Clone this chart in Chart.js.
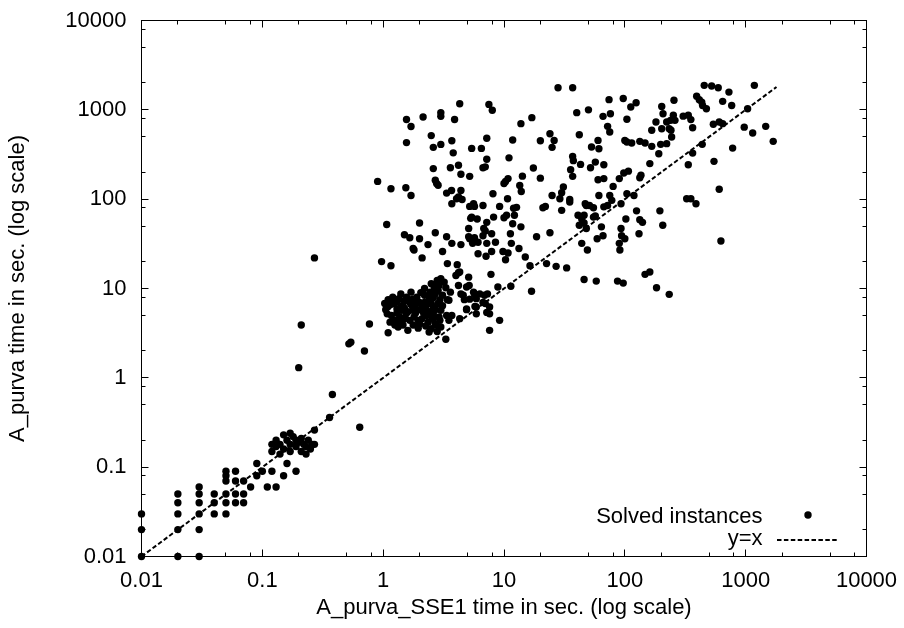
<!DOCTYPE html>
<html>
<head>
<meta charset="utf-8">
<script src="https://cdn.jsdelivr.net/npm/chart.js@4.4.1/dist/chart.umd.min.js"></script>
<style>
  html, body { margin: 0; padding: 0; background: #fff; }
</style>
</head>
<body>
<canvas id="chart" width="904" height="628"></canvas>
<script>
// Solved instances as [A_purva_SSE1 time, A_purva time] in seconds
const tinyInstances = [
  [0.01, 0.01], [0.01, 0.02], [0.01, 0.03],
  [0.02, 0.01], [0.02, 0.02], [0.02, 0.03], [0.02, 0.04], [0.02, 0.05],
  [0.03, 0.01], [0.03, 0.02], [0.03, 0.03], [0.03, 0.04], [0.03, 0.05], [0.03, 0.06],
  [0.04, 0.03], [0.04, 0.04], [0.04, 0.05],
  [0.05, 0.03], [0.05, 0.04], [0.05, 0.05], [0.05, 0.07], [0.05, 0.08], [0.05, 0.09],
  [0.06, 0.04], [0.06, 0.05], [0.06, 0.07], [0.06, 0.09],
  [0.07, 0.04], [0.07, 0.05], [0.07, 0.07],
  [0.08, 0.06], [0.09, 0.08], [0.09, 0.11], [0.1, 0.09],
];

const smallInstances = [
  [0.11, 0.06], [0.12, 0.09], [0.13, 0.06], [0.15, 0.08], [0.16, 0.11], [0.19, 0.09],
  [0.12, 0.18], [0.12, 0.15], [0.13, 0.17], [0.14, 0.18], [0.15, 0.23], [0.15, 0.16],
  [0.16, 0.2], [0.17, 0.24], [0.17, 0.18], [0.19, 0.2], [0.19, 0.17], [0.2, 0.19],
  [0.21, 0.15], [0.22, 0.18], [0.23, 0.17], [0.24, 0.2], [0.25, 0.16], [0.26, 0.18],
  [0.27, 0.18], [0.14, 0.14], [0.13, 0.2], [0.18, 0.22], [0.21, 0.21], [0.23, 0.14],
  [0.17, 0.15],
  [0.27, 0.26], [0.36, 0.36], [0.38, 0.65], [0.64, 0.28],
  [0.2, 1.3], [0.21, 3.9], [0.27, 22], [0.52, 2.4], [0.54, 2.5], [0.7, 2.0], [0.77, 4.0],
];

const midInstances = [
  [1.1, 7.5], [1.2, 8.0], [1.4, 8.7], [1.7, 9.1], [1.9, 8.0], [2.2, 10], [2.5, 11.3],
  [2.8, 12.3], [3.0, 12.9], [3.2, 11.8], [2.85, 9.5], [3.1, 8.4], [2.4, 7.4], [2.1, 6.2],
  [1.9, 6.8], [1.65, 7.0], [1.45, 6.5], [1.3, 5.9], [1.05, 5.8], [1.17, 5.0], [1.37, 4.8],
  [1.55, 5.2], [1.8, 4.8], [2.1, 4.6], [2.3, 5.0], [2.6, 5.2], [3.0, 5.7], [2.85, 6.8],
  [1.14, 4.2], [1.46, 3.9], [1.77, 3.9], [1.6, 3.4], [1.25, 4.4], [1.03, 6.8], [2.0, 4.0],
  [2.5, 3.55], [2.75, 3.9], [3.35, 5.0], [2.95, 4.4], [1.77, 5.7], [2.2, 8.4], [2.7, 8.7],
  [2.45, 9.1], [1.29, 7.0], [1.56, 8.0], [1.89, 5.7], [1.42, 5.7], [1.21, 6.8], [2.6, 6.2],
  [2.36, 4.2], [1.66, 4.4], [1.33, 3.7], [1.1, 6.3], [1.5, 6.0], [2.0, 7.0], [2.3, 6.6],
  [2.6, 7.9], [2.9, 10.8], [3.3, 10.2], [1.35, 7.7], [1.75, 6.3], [2.15, 5.4],
  [1.1, 3.2], [2.4, 3.25], [2.8, 3.3], [3.3, 2.7], [3.7, 5.0], [3.5, 7.4], [4.0, 14],
  [4.2, 15], [4.2, 10.8], [4.9, 10.4], [5.1, 13.4], [4.4, 8.7], [5.2, 7.6], [5.7, 8.7],
  [4.9, 5.9], [5.9, 5.2], [7.3, 8.7], [7.6, 6.2], [7.6, 3.4], [9.2, 4.4], [8.9, 10.4],
  [7.8, 14.4], [4.3, 15.3], [3.6, 9.1], [4.7, 7.5], [5.9, 6.2], [3.4, 7.5], [7.0, 6.8],
  [7.2, 5.4], [3.5, 4.4], [2.9, 4.8], [4.3, 4.6], [2.7, 4.0], [3.0, 3.7], [2.6, 4.6],
  [5.15, 10.8], [5.6, 9.1], [6.3, 8.7], [6.9, 8.4], [5.9, 7.7], [4.6, 8.4], [5.75, 6.3],
  [6.7, 7.0], [4.9, 5.8], [7.6, 5.2], [11.4, 10.6], [16.9, 9.3],
  [0.97, 20], [1.16, 18], [1.8, 27], [2.1, 22], [3.1, 26], [3.4, 19], [4.1, 18.5],
  [6.1, 24.5], [7.1, 23], [7.9, 26], [9.8, 26], [10.8, 25], [10.3, 21], [16.4, 18],
  [22.5, 19], [27, 17.7], [33, 17], [15, 22.5],
];

// the packed blob around 1-3 s / 4-12 s
const denseCluster = [
  [1.08, 5.2], [1.15, 6.6], [1.25, 7.4], [1.3, 5.3], [1.4, 6.1], [1.5, 7.3], [1.5, 4.6],
  [1.6, 5.5], [1.7, 6.6], [1.75, 7.6], [1.85, 5.3], [1.95, 4.4], [2.05, 5.8], [2.2, 7.0],
  [2.25, 6.0], [2.4, 5.5], [2.5, 6.8], [2.55, 4.8], [2.7, 5.8], [2.65, 10.2], [2.75, 11.0],
  [2.95, 7.5], [3.1, 6.4], [2.4, 8.2], [2.05, 9.0], [1.25, 3.9], [1.4, 4.2], [1.95, 3.6],
  [2.25, 3.8],
];

const slowInstances = [
  [28, 1770], [37, 1770], [4.3, 1170], [7.5, 1150], [8.0, 990], [1.56, 780], [1.7, 650],
  [2.14, 830], [3.0, 930], [3.0, 845], [3.9, 780], [1.56, 430], [2.5, 515], [2.6, 380],
  [3.0, 410], [3.7, 450], [3.8, 330], [5.4, 370], [6.5, 370], [7.2, 480], [7.2, 280],
  [6.7, 225], [7.0, 230], [2.6, 220], [3.6, 225], [4.2, 240], [4.4, 190], [5.2, 180],
  [2.7, 163], [2.85, 143], [3.35, 117], [4.4, 125], [4.2, 106], [3.7, 89], [5.2, 83],
  [5.7, 83], [6.7, 85], [8.1, 115], [9.2, 83], [10.3, 158], [10, 150], [10.8, 170],
  [13.5, 142], [13.9, 122], [14.2, 181], [17.5, 223], [20, 172], [11.8, 460], [11, 290],
  [13.8, 700], [17, 817], [20, 450], [24, 540], [25, 380], [26, 455], [40, 930], [50, 1000],
  [42, 527], [37, 300], [37.5, 270], [43, 245], [52, 225], [35.6, 214], [37, 180], [53, 383],
  [60, 455], [57, 260], [60, 165], [25, 110], [29, 101], [30, 118], [35, 99], [21, 80],
  [22, 83], [30, 75], [48, 85], [46, 66], [55, 63], [42, 51], [44, 32], [49, 27], [18.6, 38],
  [24, 42], [13.3, 28], [11.5, 32], [11.3, 41], [11.8, 53], [13.8, 49], [10.5, 66], [10, 62],
  [8.2, 63], [7.2, 55], [6.8, 47], [6.0, 60], [5.4, 63], [5.1, 47], [6.7, 39], [7.9, 41],
  [8.5, 33], [6.1, 33], [7.2, 32], [5.5, 32], [5.1, 38], [4.4, 31], [3.7, 32], [3.35, 38],
  [2.7, 42], [2.35, 31], [2.0, 54], [1.77, 28], [1.5, 40], [1.66, 37], [2.0, 36], [1.07, 52],
  [0.9, 158], [1.16, 131], [1.54, 134], [1.7, 110], [2.77, 150], [3.68, 125], [4.05, 101],
  [4.5, 99], [5.6, 89], [10.7, 101], [12, 79], [12.7, 81], [12.2, 66], [5.3, 61], [5.2, 36],
  [5.7, 37], [7, 44],
];

const largeInstances = [
  [454, 1880], [523, 1850], [593, 1770], [1180, 1880], [727, 1580], [393, 1420], [413, 1300],
  [433, 1220], [645, 1245], [766, 1120], [440, 1120], [473, 1030], [255, 1280], [202, 1090],
  [207, 905], [252, 870], [239, 763], [260, 763], [222, 730], [233, 615], [241, 590],
  [181, 730], [167, 590], [202, 615], [304, 850], [335, 870], [352, 777], [364, 630],
  [244, 496], [222, 418], [198, 411], [191, 323], [161, 250], [104, 436], [114, 425],
  [133, 444], [147, 425], [167, 390], [100, 455], [104, 783], [112, 1075], [124, 1200],
  [97, 1340], [74, 1300], [66, 845], [76, 905], [72, 653], [75, 565], [61, 367], [67, 243],
  [67, 170], [80, 139], [90, 170], [98, 196], [107, 206], [136, 185], [133, 174], [31, 137],
  [35, 93], [47, 89], [51, 85], [55, 80], [61, 110], [75, 110], [78, 97], [67, 82], [72, 85],
  [93, 89], [104, 115], [119, 110], [41, 66], [44, 60], [46, 54], [48, 47], [57, 65],
  [64, 49], [66, 39], [59, 36], [93, 47], [94, 39], [100, 36], [90, 32], [91, 27], [102, 60],
  [125, 74], [133, 59], [140, 55], [131, 41], [195, 74], [206, 51], [325, 101], [352, 101],
  [388, 89], [335, 243], [364, 328], [437, 411], [547, 265], [604, 129], [624, 34],
  [540, 690], [604, 730], [645, 700], [780, 373], [973, 640], [1143, 550], [1038, 1030],
  [1465, 653], [1690, 444],
  [46, 12.6], [58, 12.1], [87, 12.1], [97, 11.5], [147, 14.4], [161, 15.3], [183, 10.2],
  [233, 8.6],
];

const diagonalEnds = [0.01, 1800];
const tickValues = [0.01, 0.1, 1, 10, 100, 1000, 10000];
const tickLabels = ["0.01", "0.1", "1", "10", "100", "1000", "10000"];
const minorSteps = [2, 5, 8];

const solved = [].concat(tinyInstances, smallInstances, midInstances, denseCluster,
  slowInstances, largeInstances).map(([x, y]) => ({ x, y }));

Chart.defaults.font.family = "'Liberation Sans', Arial, Helvetica, sans-serif";
Chart.defaults.font.size = 22;
Chart.defaults.color = "#000";

// gnuplot style frame with inward ticks on all four sides
const frameTicks = {
  id: "frameTicks",
  beforeDatasetsDraw(chart) {
    const { ctx, chartArea: a, scales } = chart;
    ctx.save();
    ctx.strokeStyle = "#000";
    ctx.lineWidth = 1;
    ctx.strokeRect(a.left, a.top, a.right - a.left, a.bottom - a.top);
    ctx.beginPath();
    const marks = (v, len) => {
      const px = Math.round(scales.x.getPixelForValue(v) - 0.5) + 0.5;
      const py = Math.round(scales.y.getPixelForValue(v) - 0.5) + 0.5;
      ctx.moveTo(px, a.bottom); ctx.lineTo(px, a.bottom - len);
      ctx.moveTo(px, a.top); ctx.lineTo(px, a.top + len);
      ctx.moveTo(a.left, py); ctx.lineTo(a.left + len, py);
      ctx.moveTo(a.right, py); ctx.lineTo(a.right - len, py);
    };
    tickValues.forEach((v, i) => {
      marks(v, 7);
      if (i < tickValues.length - 1) minorSteps.forEach((m) => marks(v * m, 4));
    });
    ctx.stroke();
    ctx.restore();
  },
};

// key in the lower right corner, like gnuplot draws it
const cornerKey = {
  id: "cornerKey",
  afterDraw(chart) {
    const { ctx, chartArea: a } = chart;
    const sets = chart.data.datasets;
    ctx.save();
    ctx.fillStyle = "#000";
    ctx.font = "22px 'Liberation Sans', Arial, sans-serif";
    ctx.textAlign = "right";
    ctx.textBaseline = "alphabetic";
    ctx.fillText(sets[0].label, a.right - 104, a.bottom - 33.5);
    ctx.fillText(sets[1].label, a.right - 104, a.bottom - 11.5);
    ctx.beginPath();
    ctx.arc(a.right - 58.5, a.bottom - 41.5, 3.7, 0, Math.PI * 2);
    ctx.fill();
    ctx.strokeStyle = "#000";
    ctx.lineWidth = 2;
    ctx.setLineDash([4.5, 2.4]);
    ctx.beginPath();
    ctx.moveTo(a.right - 89.5, a.bottom - 16.5);
    ctx.lineTo(a.right - 27.5, a.bottom - 16.5);
    ctx.stroke();
    ctx.restore();
  },
};

// keep the plot box fixed: no extra room reserved for end labels
const noLabelPadding = (s) => {
  s.paddingTop = 0;
  s.paddingBottom = 0;
  s.paddingLeft = 0;
  s.paddingRight = 0;
};

new Chart(document.getElementById("chart"), {
  type: "scatter",
  data: {
    datasets: [
      {
        label: "Solved instances",
        data: solved,
        pointRadius: 3.7,
        pointHoverRadius: 3.7,
        pointBackgroundColor: "#000",
        pointBorderWidth: 0,
        clip: false,
        order: 2,
      },
      {
        label: "y=x",
        type: "line",
        data: diagonalEnds.map((v) => ({ x: v, y: v })),
        borderColor: "#000",
        borderWidth: 2,
        borderDash: [4.5, 2.4],
        pointRadius: 0,
        fill: false,
        order: 1,
      },
    ],
  },
  plugins: [frameTicks, cornerKey],
  options: {
    responsive: false,
    animation: false,
    events: [],
    layout: { padding: { left: 0, right: 37.5, top: 20.5, bottom: 0 } },
    scales: {
      x: {
        type: "logarithmic",
        min: 0.01,
        max: 10000,
        afterBuildTicks: (s) => { s.ticks = tickValues.map((v) => ({ value: v })); },
        afterFit: (s) => { s.height = 71.5; noLabelPadding(s); },
        grid: { display: false, drawTicks: false },
        border: { display: false },
        ticks: {
          padding: 11,
          maxRotation: 0,
          autoSkip: false,
          callback: (v, i) => tickLabels[i],
        },
        title: {
          display: true,
          text: "A_purva_SSE1 time in sec. (log scale)",
          padding: { top: 0, bottom: 7 },
        },
      },
      y: {
        type: "logarithmic",
        min: 0.01,
        max: 10000,
        afterBuildTicks: (s) => { s.ticks = tickValues.map((v) => ({ value: v })); },
        afterFit: (s) => { s.width = 141.5; noLabelPadding(s); },
        grid: { display: false, drawTicks: false },
        border: { display: false },
        ticks: {
          padding: 15,
          autoSkip: false,
          callback: (v, i) => tickLabels[i],
        },
        title: {
          display: true,
          text: "A_purva time in sec. (log scale)",
          padding: { top: 5, bottom: 0 },
        },
      },
    },
    plugins: {
      legend: { display: false },
      tooltip: { enabled: false },
    },
  },
});
</script>
</body>
</html>
